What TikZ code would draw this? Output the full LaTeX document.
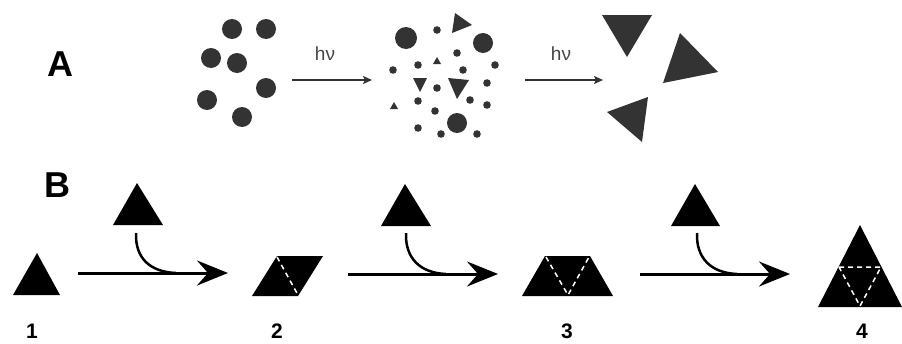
\documentclass[tikz,border=0pt]{standalone}
\usepackage{fontspec}
\setmainfont{Liberation Sans}
\usetikzlibrary{arrows.meta}
\definecolor{agray}{HTML}{333333}
\definecolor{hvgray}{HTML}{444444}
\tikzset{
  bigletter/.style={font=\bfseries\fontsize{36}{36}\selectfont, inner sep=0pt},
  numlabel/.style={font=\bfseries\fontsize{21}{21}\selectfont, inner sep=0pt},
  hvlabel/.style={font=\fontsize{19}{19}\selectfont, text=hvgray, inner sep=0pt},
  thinarrow/.style={line width=1.6pt, agray, -{Stealth[length=9pt,width=8pt,inset=2pt]}},
  mainarrow/.style={line width=3pt, -{Stealth[length=31pt,width=25pt,inset=11pt]}},
  curvearrow/.style={line width=2.5pt},
  bigdot/.style={fill=agray},
  splitdash/.style={white, line width=1.5pt, dash pattern=on 5pt off 4pt},
}
\begin{document}
\begin{tikzpicture}[x=1pt,y=-1pt]
\useasboundingbox (0,0) rectangle (902,343);
% ---------- Panel A ----------
\node[bigletter] (labA) at (60,64) {A};
% intact clusters of dots
\foreach \x/\y in {232/29,266/29,211/58,237/63,266/88,207/100,242/117}
  \fill[bigdot] (\x,\y) circle (10);
% arrows
\coordinate (a1s) at (292,80);
\coordinate (a1e) at (372,80);
\draw[thinarrow] (a1s) -- (a1e);
\node[hvlabel] (hv1) at (325,54) {hν};
\coordinate (a2s) at (525,80);
\coordinate (a2e) at (603,80);
\draw[thinarrow] (a2s) -- (a2e);
\node[hvlabel] (hv2) at (561,54) {hν};
% fragmented state
\foreach \x/\y/\r in {406/38/11, 483/43/10, 457/123/10}
  \fill[bigdot] (\x,\y) circle (\r);
\foreach \x/\y in {437/30,457/53,495/65,393/70,418/65,463/70,437/88,487/83,418/101,435/111,470/100,487/105,418/128,441/134,477/134}
  \fill[bigdot] (\x,\y) circle (3.8);
\fill[agray] (455,13) -- (472,25) -- (452,33) -- cycle;
\fill[agray] (433,64) -- (437,57) -- (441,64) -- cycle;
\fill[agray] (390,109) -- (394,102) -- (398,109) -- cycle;
\fill[agray] (413,78) -- (427,78) -- (420,92) -- cycle;
\fill[agray] (448,78) -- (469,80) -- (457,99) -- cycle;
% final big triangles
\fill[agray] (602,15) -- (652,15) -- (627,57) -- cycle;
\fill[agray] (680,33) -- (718,72) -- (663,83) -- cycle;
\fill[agray] (607,112) -- (648,97) -- (642,142) -- cycle;
% ---------- Panel B ----------
\node[bigletter] (labB) at (57,185) {B};
% species 1
\fill (13,295) -- (37,253) -- (60,295) -- cycle;
\node[numlabel] (n1) at (32,331) {1};
% species 2
\fill (252,296) -- (277,256) -- (323,256) -- (298,296) -- cycle;
\draw[splitdash] (277,257) -- (298,295);
\node[numlabel] (n2) at (277,331) {2};
% species 3
\fill (522,296) -- (545,256) -- (590,256) -- (613,296) -- cycle;
\draw[splitdash] (546,257) -- (568,295) -- (589,257);
\node[numlabel] (n3) at (567,331) {3};
% species 4
\fill (818,307) -- (860,225) -- (902,307) -- cycle;
\draw[splitdash] (839,267) -- (881,267) -- (860,306) -- cycle;
\node[numlabel] (n4) at (862,331) {4};
% added monomers
\fill (113,225) -- (137,183) -- (163,225) -- cycle;
\fill (381,226) -- (405,184) -- (431,226) -- cycle;
\fill (671,226) -- (695,184) -- (720,226) -- cycle;
% reaction arrows
\coordinate (r1s) at (78,273);
\coordinate (r1e) at (228,273);
\coordinate (r2s) at (348,274);
\coordinate (r2e) at (498,274);
\coordinate (r3s) at (640,274);
\coordinate (r3e) at (790,274);
\draw[mainarrow] (r1s) -- (r1e);
\draw[mainarrow] (r2s) -- (r2e);
\draw[mainarrow] (r3s) -- (r3e);
\coordinate (c1s) at (136,233);
\coordinate (c1e) at (176,273);
\coordinate (c2s) at (406,233);
\coordinate (c2e) at (446,274);
\coordinate (c3s) at (697,233);
\coordinate (c3e) at (737,274);
\draw[curvearrow] (c1s) .. controls (135,258) and (150,272) .. (c1e);
\draw[curvearrow] (c2s) .. controls (405,258) and (420,273) .. (c2e);
\draw[curvearrow] (c3s) .. controls (696,258) and (711,273) .. (c3e);
\end{tikzpicture}
\end{document}
